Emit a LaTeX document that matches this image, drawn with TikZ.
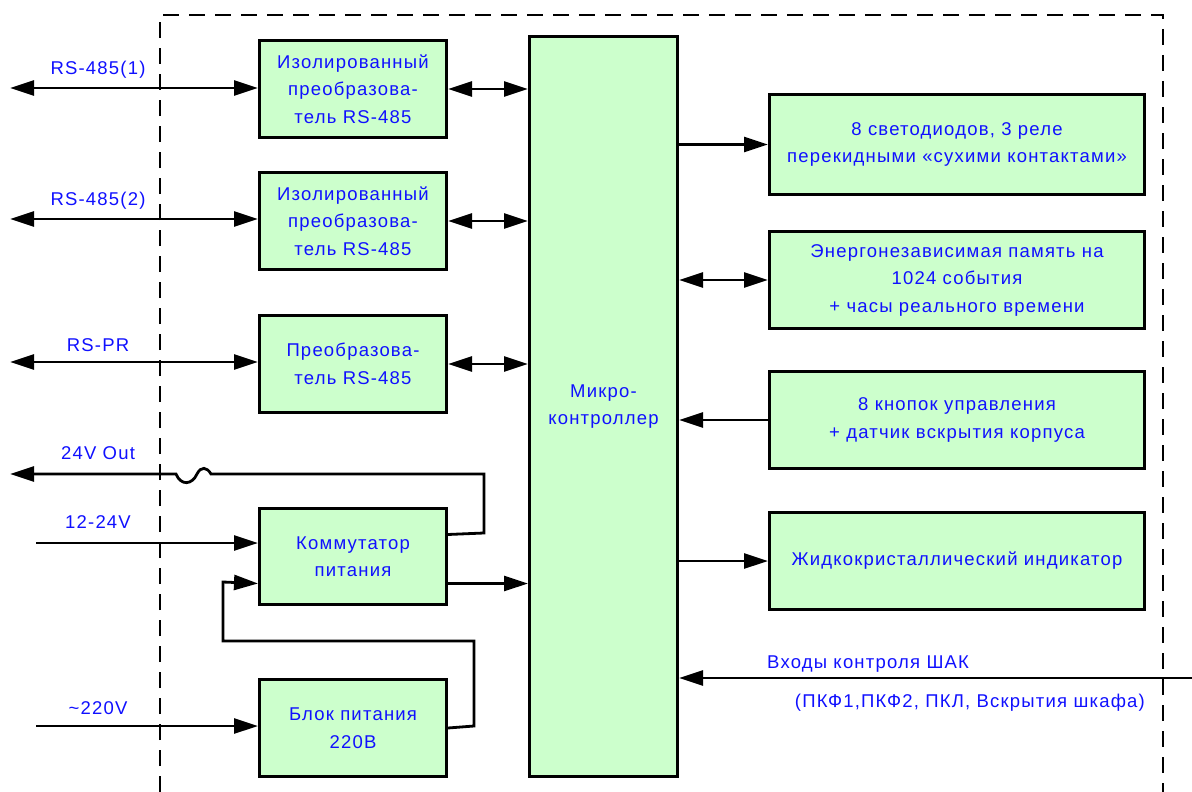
\documentclass[tikz,border=0pt]{standalone}
\usepackage{fontspec}
\setmainfont{Liberation Sans}[LetterSpace=6.5]
\usetikzlibrary{arrows.meta,calc}
\definecolor{boxfill}{RGB}{204,255,204}
\definecolor{txtblue}{RGB}{16,16,255}
\begin{document}
\begin{tikzpicture}[x=1pt,y=-1pt,
  blk/.style={draw=black, line width=3pt, fill=boxfill, text=txtblue, anchor=north west,
    inner sep=0pt, align=center, font=\fontsize{18.5}{27.5}\selectfont},
  lbl/.style={text=txtblue, inner sep=0pt, font=\fontsize{18.5}{27.5}\selectfont},
  wire/.style={line width=2.8pt, line join=miter},
  tip/.tip={Triangle[length=24pt,width=15pt]},
  frame/.style={line width=2.4pt, dash pattern=on 16pt off 10pt}
]
\useasboundingbox (0,0) rectangle (1192,792);
\fill[white] (0,0) rectangle (1192,792);
% dashed frame
\draw[frame] (160,792) -- (160,15) -- (1163,15) -- (1163,792);

% blocks
\node[blk, minimum width=187pt, minimum height=97pt] (b1) at (258,39) {Изолированный\\преобразова-\\тель RS-485};
\node[blk, minimum width=187pt, minimum height=97pt] (b2) at (258,171) {Изолированный\\преобразова-\\тель RS-485};
\node[blk, minimum width=187pt, minimum height=97pt] (b3) at (258,314) {Преобразова-\\тель RS-485};
\node[blk, minimum width=187pt, minimum height=96pt] (kom) at (258,507) {Коммутатор\\питания};
\node[blk, minimum width=187pt, minimum height=97pt] (bp) at (258,678) {Блок питания\\220В};
\node[blk, minimum width=148pt, minimum height=740pt] (mc) at (528,35) {Микро-\\контроллер};
\node[blk, minimum width=375pt, minimum height=100pt] (r1) at (768,93) {8 светодиодов, 3 реле\\перекидными «сухими контактами»};
\node[blk, minimum width=375pt, minimum height=97pt] (r2) at (768,230) {Энергонезависимая память на\\1024 события\\+ часы реального времени};
\node[blk, minimum width=375pt, minimum height=97pt] (r3) at (768,370) {8 кнопок управления\\+ датчик вскрытия корпуса};
\node[blk, minimum width=375pt, minimum height=97pt] (r4) at (768,511) {Жидкокристаллический индикатор};

% outer labels
\node[lbl] (t1) at (98,70) {RS-485(1)};
\node[lbl] (t2) at (98,201) {RS-485(2)};
\node[lbl] (t3) at (98,345) {RS-PR};
\node[lbl] (t4) at (98,453) {24V Out};
\node[lbl] (t5) at (98,522) {12-24V};
\node[lbl] (t6) at (98,708) {\char"007E 220V};
\node[lbl, anchor=west] (t7) at (767,664) {Входы контроля ШАК};
\node[lbl, anchor=east] (t8) at (1145,703) {(ПКФ1,ПКФ2, ПКЛ, Вскрытия шкафа)};

% free ends
\coordinate (e1) at (10,88);
\coordinate (e2) at (10,219);
\coordinate (e3) at (10,362);
\coordinate (e4) at (10,474);
\coordinate (e5) at (36,543);
\coordinate (e6) at (36,726);
\coordinate (e7) at (1192,678);

% left side connectors
\draw[wire, {tip}-{tip}] (e1) -- (e1 -| b1.west);
\draw[wire, {tip}-{tip}] (e2) -- (e2 -| b2.west);
\draw[wire, {tip}-{tip}] (e3) -- (e3 -| b3.west);
\draw[wire, -{tip}] (e5) -- (e5 -| kom.west);
\draw[wire, -{tip}] (e6) -- (e6 -| bp.west);

% converters to micro
\draw[wire, {tip}-{tip}] (b1.east) -- (b1.east -| mc.west);
\draw[wire, {tip}-{tip}] (b2.east) -- (b2.east -| mc.west);
\draw[wire, {tip}-{tip}] (b3.east) -- (b3.east -| mc.west);

% power
\draw[wire, -{tip}] ([yshift=-27pt]kom.east) -- ([yshift=-27pt]kom.east -| mc.west);
\draw[wire, -{tip}] ([yshift=22pt]kom.east) -- (484,533) -- (484,474) -- (211,474)
   .. controls (207,467) and (201,466) .. (197,474)
   .. controls (192,485) and (181,486) .. (176,474) -- (e4);
\draw[wire, -{tip}] (bp.east) -- (474,726) -- (474,641) -- (223,641) -- (223,582) -- ([yshift=-27pt]kom.west);

% right side
\draw[wire, -{tip}] (mc.east |- r1.west) -- (r1.west);
\draw[wire, {tip}-{tip}] (mc.east |- r2.west) -- (r2.west);
\draw[wire, -{tip}] (r3.west) -- (mc.east |- r3.west);
\draw[wire, -{tip}] (mc.east |- r4.west) -- (r4.west);
\draw[wire, -{tip}] (e7) -- (e7 -| mc.east);
\end{tikzpicture}
\end{document}
